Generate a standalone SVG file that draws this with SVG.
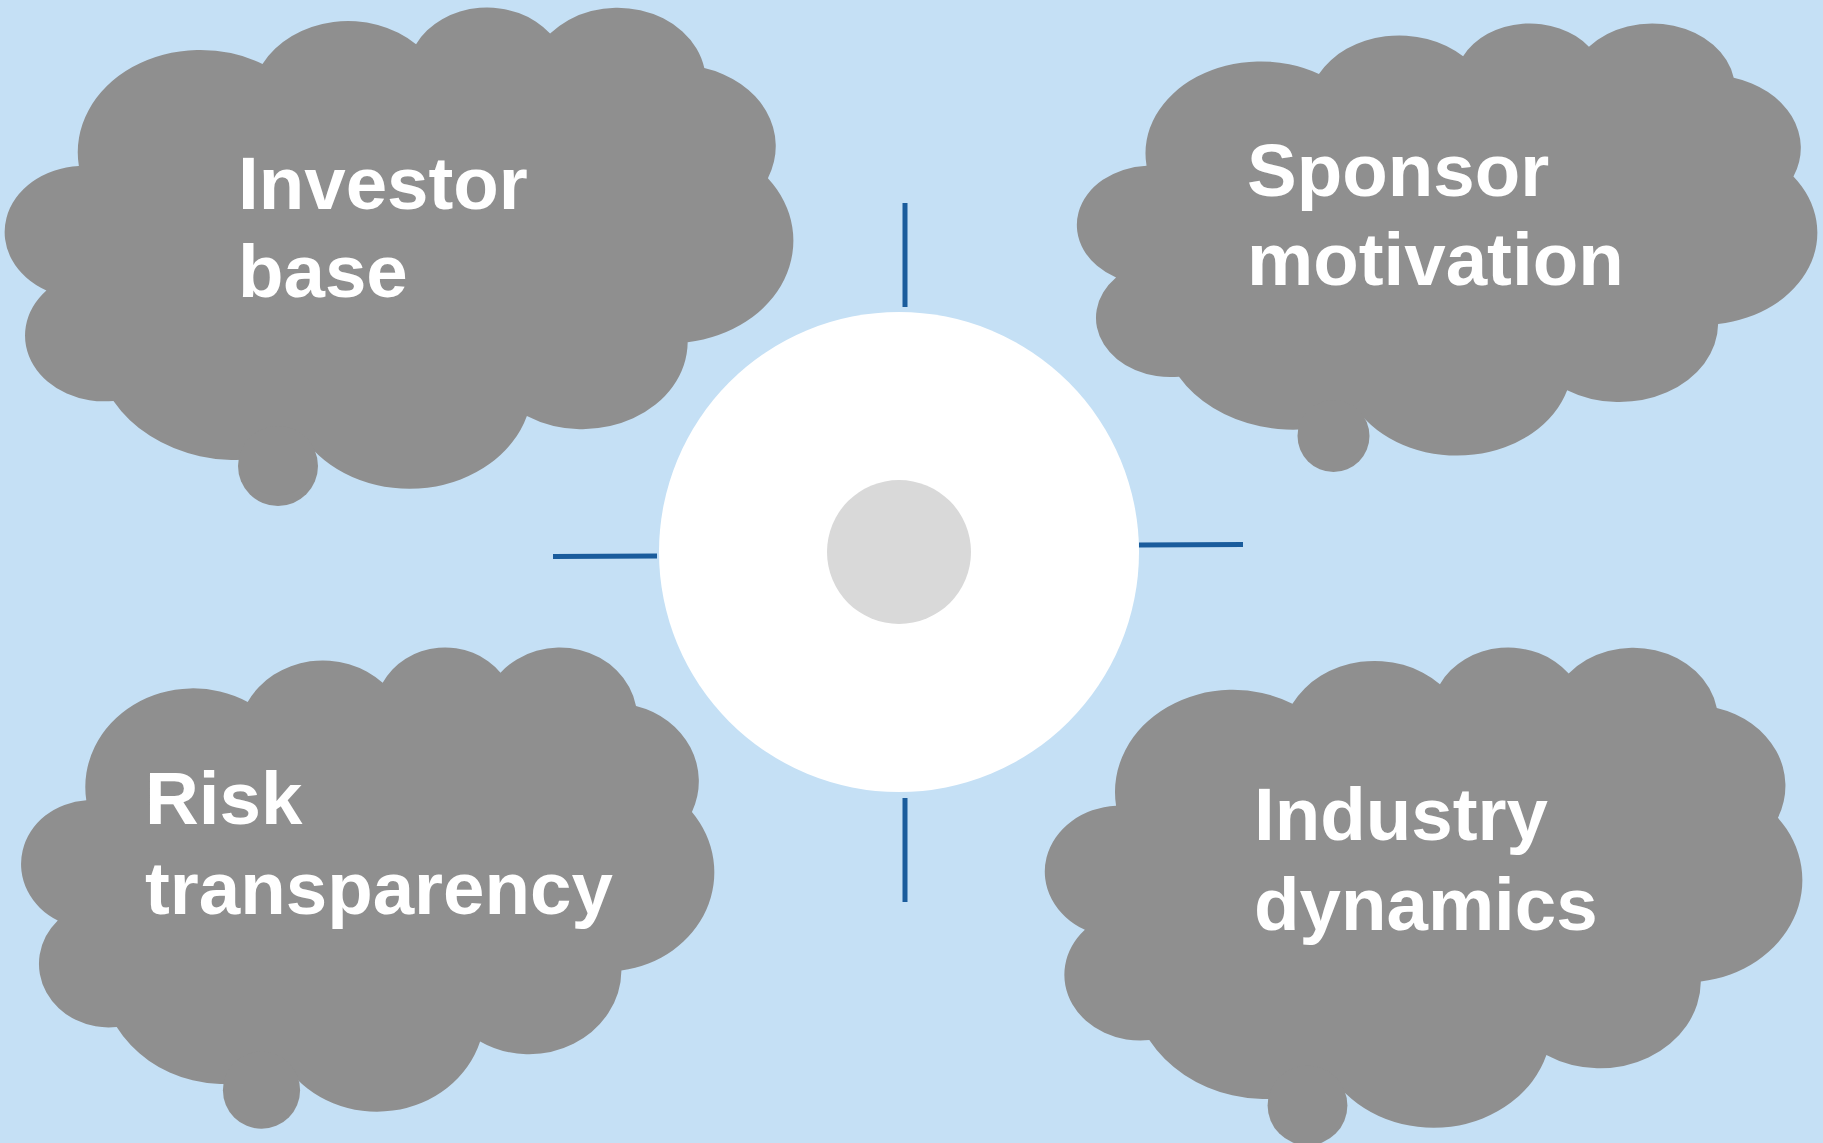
<svg xmlns="http://www.w3.org/2000/svg" xmlns:xlink="http://www.w3.org/1999/xlink" width="1823" height="1143" viewBox="0 0 1823 1143">
  <style>
    .bg { fill: #c5e0f5; }
    .cloud { fill: #8f8f8f; }
    .label { font-family: "Liberation Sans", Arial, sans-serif; font-weight: bold; font-size: 74.5px; fill: #ffffff; }
    .conn { stroke: #1a5c9c; stroke-width: 5; fill: none; }
    .outer { fill: #ffffff; }
    .inner { fill: #d9d9d9; }
  </style>
  <defs>
    <path id="cloudShape" d="M3900,14370 A6753,9190 0 0 1 14005,5203 A5333,7267 0 0 1 22456,3432 A4365,5945 0 0 1 29833,2481 A4857,6595 0 0 1 38319,5576 A5333,7273 0 0 1 41819,15460 A6775,9220 0 0 1 37404,30203 A5785,7867 0 0 1 28556,36813 A6752,9215 0 0 1 16480,39263 A7720,10543 0 0 1 5804,35469 A4360,5918 0 0 1 2113,25548 A4345,5945 0 0 1 3900,14370 Z"/>
  </defs>
  <rect class="bg" x="0" y="0" width="1823" height="1143"/>

  <g id="connectors">
    <line class="conn" x1="905" y1="203" x2="905" y2="307"/>
    <line class="conn" x1="905" y1="798" x2="905" y2="902"/>
    <line class="conn" x1="553" y1="556.5" x2="657" y2="556"/>
    <line class="conn" x1="1139" y1="545" x2="1243" y2="544.5"/>
  </g>

  <g id="center">
    <circle class="outer" cx="899" cy="552" r="240"/>
    <circle class="inner" cx="899" cy="552" r="72"/>
  </g>

  <g id="investor-base">
    <use class="cloud" xlink:href="#cloudShape" href="#cloudShape" transform="translate(8,6) scale(0.0181713,0.0111343)"/>
    <circle class="cloud" cx="278" cy="466" r="40"/>
    <text class="label" x="238" y="209">Investor</text>
    <text class="label" x="238" y="297">base</text>
  </g>

  <g id="sponsor-motivation">
    <use class="cloud" xlink:href="#cloudShape" href="#cloudShape" transform="translate(1080,22) scale(0.0170602,0.01)"/>
    <circle class="cloud" cx="1333.5" cy="436" r="36"/>
    <text class="label" x="1247" y="195.5">Sponsor</text>
    <text class="label" x="1247" y="284.5">motivation</text>
  </g>

  <g id="risk-transparency">
    <use class="cloud" xlink:href="#cloudShape" href="#cloudShape" transform="translate(24,646) scale(0.0159722,0.0107407)"/>
    <circle class="cloud" cx="261.5" cy="1090.2" r="38.6"/>
    <text class="label" x="145" y="824">Risk</text>
    <text class="label" x="145" y="914">transparency</text>
  </g>

  <g id="industry-dynamics">
    <use class="cloud" xlink:href="#cloudShape" href="#cloudShape" transform="translate(1048,646) scale(0.0174537,0.0111111)"/>
    <circle class="cloud" cx="1307.5" cy="1105.4" r="39.9"/>
    <text class="label" x="1254" y="840">Industry</text>
    <text class="label" x="1254" y="929.5">dynamics</text>
  </g>
</svg>
